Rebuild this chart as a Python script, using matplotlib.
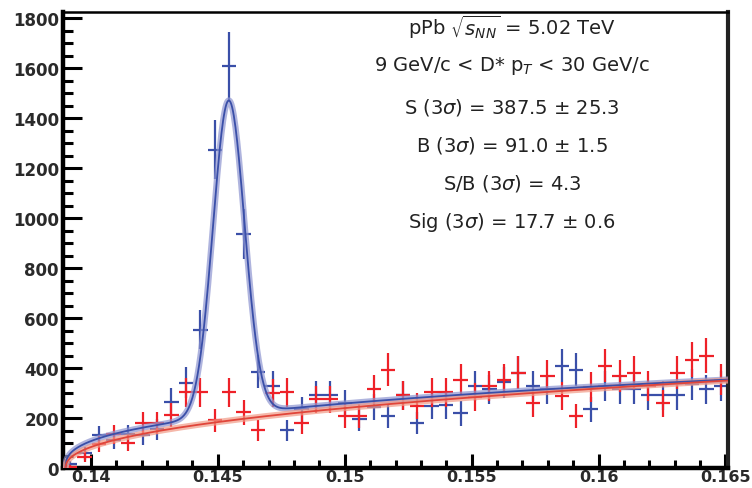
import numpy as np
import matplotlib.pyplot as plt
from matplotlib.ticker import MultipleLocator

# binning of the delta-M histograms
x_lo, x_hi, n_bins = 0.1389, 0.1651, 46

# counts per bin (blue = right sign, red = wrong sign)
blue_counts = [15, 60, 131, 111, 135, 131, 155, 265, 342, 553,
               1274, 1609, 936, 386, 330, 151, 235, 291, 291, 260,
               195, 243, 207, 291, 179, 247, 251, 219, 330, 315,
               343, 382, 327, 315, 410, 394, 235, 330, 315, 315,
               291, 291, 291, 335, 315, 330]
blue_err = [13, 26, 38, 35, 39, 38, 41, 54, 61, 78,
            118, 135, 101, 65, 60, 41, 51, 57, 57, 53,
            46, 52, 48, 57, 44, 52, 53, 49, 60, 59,
            61, 65, 60, 59, 67, 66, 51, 60, 59, 59,
            57, 57, 57, 61, 59, 60]
red_counts = [5, 45, 96, 135, 100, 179, 179, 211, 303, 303,
              191, 303, 223, 151, 300, 303, 179, 275, 275, 207,
              207, 315, 394, 291, 247, 303, 303, 354, 283, 330,
              354, 382, 259, 370, 287, 207, 323, 410, 370, 382,
              330, 259, 382, 434, 450, 354]
red_err = [7, 22, 32, 39, 33, 44, 44, 48, 58, 58,
           46, 58, 50, 41, 57, 58, 44, 55, 55, 48,
           48, 59, 66, 57, 52, 58, 58, 62, 56, 60,
           62, 65, 53, 64, 56, 48, 60, 67, 64, 65,
           60, 53, 65, 69, 70, 62]

# fit parameters (gaussian + threshold background)
gaus_amp, gaus_mean, gaus_sigma = 1258, 0.14543, 0.00062
thr = 0.1390
blue_bkg_a, blue_bkg_b = 1339, 0.365
red_bkg_a, red_bkg_b = 1728, 0.438

text_lines = [r'pPb $\sqrt{s_{NN}}$ = 5.02 TeV',
              r'9 GeV/c < D* p$_{T}$ < 30 GeV/c',
              r'S (3$\sigma$) = 387.5 $\pm$ 25.3',
              r'B (3$\sigma$) = 91.0 $\pm$ 1.5',
              r'S/B (3$\sigma$) = 4.3',
              r'Sig (3$\sigma$) = 17.7 $\pm$ 0.6']

xtick_vals = [0.14, 0.145, 0.15, 0.155, 0.16, 0.165]
xtick_labels = ['0.14', '0.145', '0.15', '0.155', '0.16', '0.165']

BLUE = '#3a4fa8'
RED = '#ee2128'

edges = np.linspace(x_lo, x_hi, n_bins + 1)
centers = 0.5 * (edges[1:] + edges[:-1])
half_w = 0.5 * (edges[1] - edges[0])

fig = plt.figure(figsize=(7.52, 4.89), dpi=100)
ax = fig.add_axes([63 / 752, 20 / 489, 665 / 752, 456 / 489])

ax.errorbar(centers, blue_counts, yerr=blue_err, xerr=half_w, fmt='none',
            ecolor=BLUE, elinewidth=1.6, capsize=0, zorder=2)
ax.errorbar(centers, red_counts, yerr=red_err, xerr=half_w, fmt='none',
            ecolor=RED, elinewidth=1.6, capsize=0, zorder=3)

xs = np.linspace(thr + 1e-7, x_hi, 800)
blue_fit = blue_bkg_a * (xs - thr) ** blue_bkg_b + \
    gaus_amp * np.exp(-0.5 * ((xs - gaus_mean) / gaus_sigma) ** 2)
red_fit = red_bkg_a * (xs - thr) ** red_bkg_b

ax.plot(xs, blue_fit, color='#8e95d0', lw=4.5, alpha=0.7, zorder=4)
ax.plot(xs, blue_fit, color=BLUE, lw=1.3, zorder=5)
ax.plot(xs, red_fit, color='#f19a86', lw=4.5, alpha=0.7, zorder=4)
ax.plot(xs, red_fit, color='#e0453a', lw=1.3, zorder=5)

ax.set_xlim(x_lo, x_hi)
ax.set_ylim(0, 1824)
ax.set_xticks(xtick_vals)
ax.set_xticklabels(xtick_labels)
ax.set_yticks(np.arange(0, 1801, 200))
ax.xaxis.set_minor_locator(MultipleLocator(0.001))
ax.yaxis.set_minor_locator(MultipleLocator(50))

for lab in ax.get_xticklabels() + ax.get_yticklabels():
    lab.set_fontweight('bold')
    lab.set_color('#2a2a2a')
ax.tick_params(axis='x', which='major', direction='in', length=10, width=2.2,
               labelsize=11.5, pad=1)
ax.tick_params(axis='x', which='minor', direction='in', length=5.5, width=2.2)
ax.tick_params(axis='y', which='major', direction='in', length=14, width=2.2,
               labelsize=12, pad=3)
ax.tick_params(axis='y', which='minor', direction='in', length=7, width=2.2)

ax.spines['left'].set_linewidth(3.2)
ax.spines['bottom'].set_linewidth(3.2)
ax.spines['top'].set_linewidth(1.8)
ax.spines['right'].set_linewidth(3)
ax.spines['right'].set_color('#222222')

y_px = [27, 66, 107, 146, 184, 222]
for line, yp in zip(text_lines, y_px):
    fig.text(512 / 752, 1 - yp / 489, line, ha='center', va='center',
             fontsize=14, color='#222222')

fig.savefig('out.png', dpi=100)
